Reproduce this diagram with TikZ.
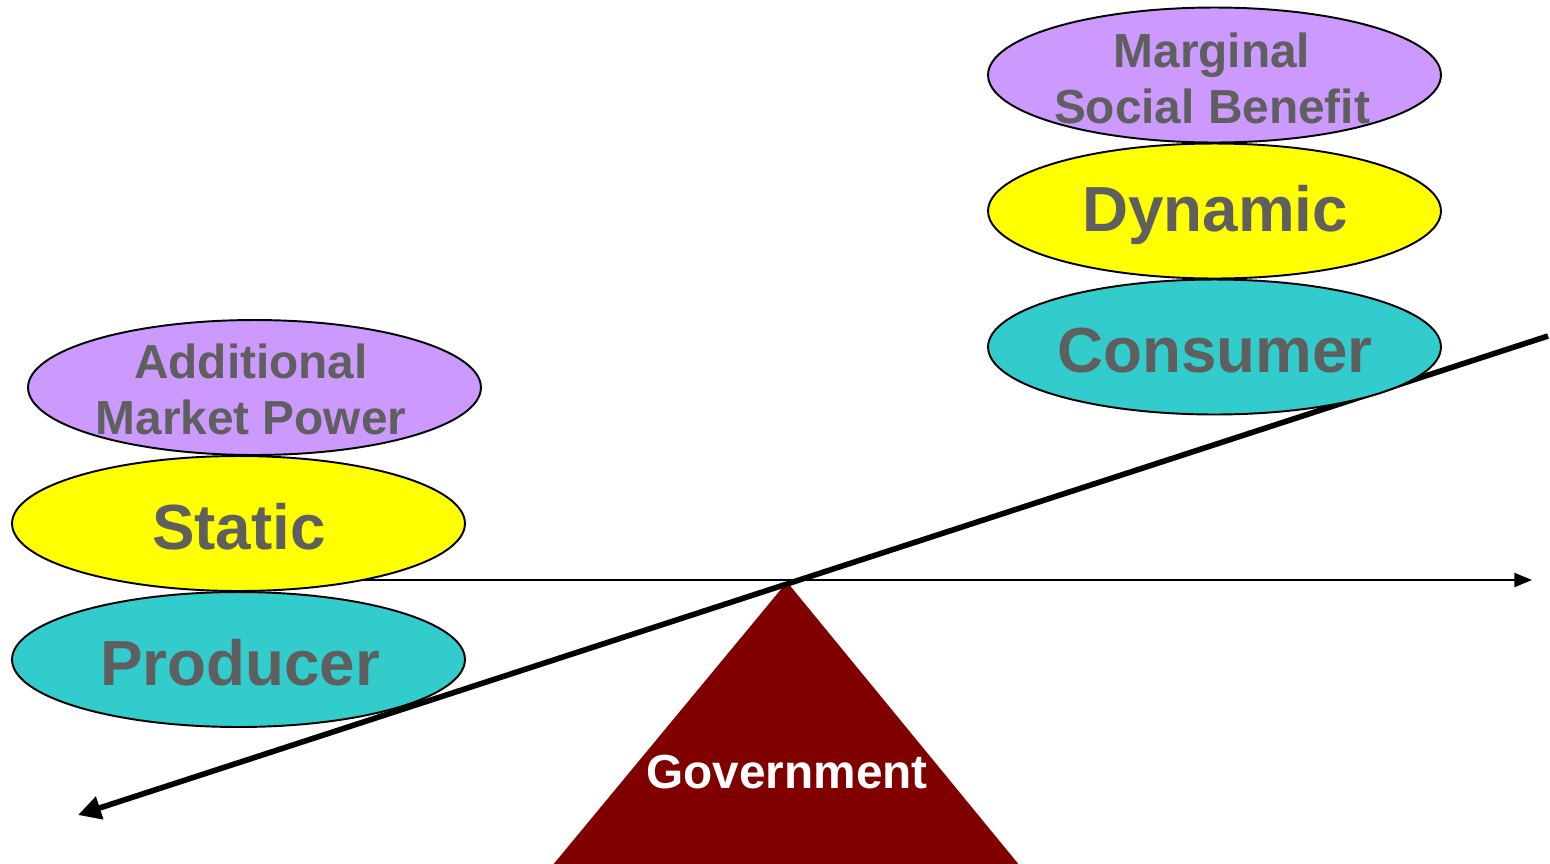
\documentclass[tikz,border=0pt]{standalone}
\usepackage{fontspec}
\setmainfont{Liberation Sans}
\usetikzlibrary{shapes.geometric,arrows.meta}
\definecolor{purp}{HTML}{CC99FF}
\definecolor{yel}{HTML}{FFFF00}
\definecolor{teal2}{HTML}{33CCCC}
\definecolor{txt}{HTML}{5F5F5F}
\definecolor{gov}{HTML}{800000}
\tikzset{
  oval/.style={ellipse, draw=black, line width=1.1pt, minimum width=9.06cm, minimum height=2.7cm, inner sep=0pt},
  bigtxt/.style={font=\bfseries\fontsize{36.3}{40}\selectfont, text=txt, inner sep=0pt},
  smalltxt/.style={font=\bfseries\fontsize{27.2}{31.8}\selectfont, text=txt, inner sep=0pt, align=center},
}
\begin{document}
\begin{tikzpicture}[x=0.02cm,y=-0.02cm]
\useasboundingbox (0,0) rectangle (1550,863);
% fulcrum
\coordinate (apex) at (787,582);
\coordinate (bl) at (552,866);
\coordinate (br) at (1020,866);
\fill[gov] (apex) -- (br) -- (bl) -- cycle;
\node[font=\bfseries\fontsize{27.2}{30}\selectfont, text=white, inner sep=0pt] (govt) at (787,772) {Government};
% axis and beam
\coordinate (hstart) at (239,580);
\coordinate (hend) at (1532,580);
\draw[line width=0.85pt, -{Triangle[length=10pt,width=8pt]}] (hstart) -- (hend);
\coordinate (beamR) at (1548,336);
\coordinate (beamL) at (78,815);
\draw[line width=3.2pt, -{Triangle[length=13pt,width=13pt]}] (beamR) -- (beamL);
% left stack
\node[oval, fill=purp] (amp) at (254.5,387.5) {};
\node[oval, fill=yel] (stat) at (238.5,523.5) {};
\node[oval, fill=teal2] (prod) at (238.5,659.5) {};
% right stack
\node[oval, fill=purp] (msb) at (1214.5,75) {};
\node[oval, fill=yel] (dyn) at (1214.5,211) {};
\node[oval, fill=teal2] (cons) at (1214.5,347) {};
% texts
\node[smalltxt] (ampt) at (251,389) {Additional\\Market Power};
\node[bigtxt] (statt) at (239,527) {Static};
\node[bigtxt] (prodt) at (240,663) {Producer};
\node[smalltxt] (msbt) at (1212,78) {Marginal\\Social Benefit};
\node[bigtxt] (dynt) at (1215,215) {Dynamic};
\node[bigtxt] (const) at (1215,351) {Consumer};
\end{tikzpicture}
\end{document}
